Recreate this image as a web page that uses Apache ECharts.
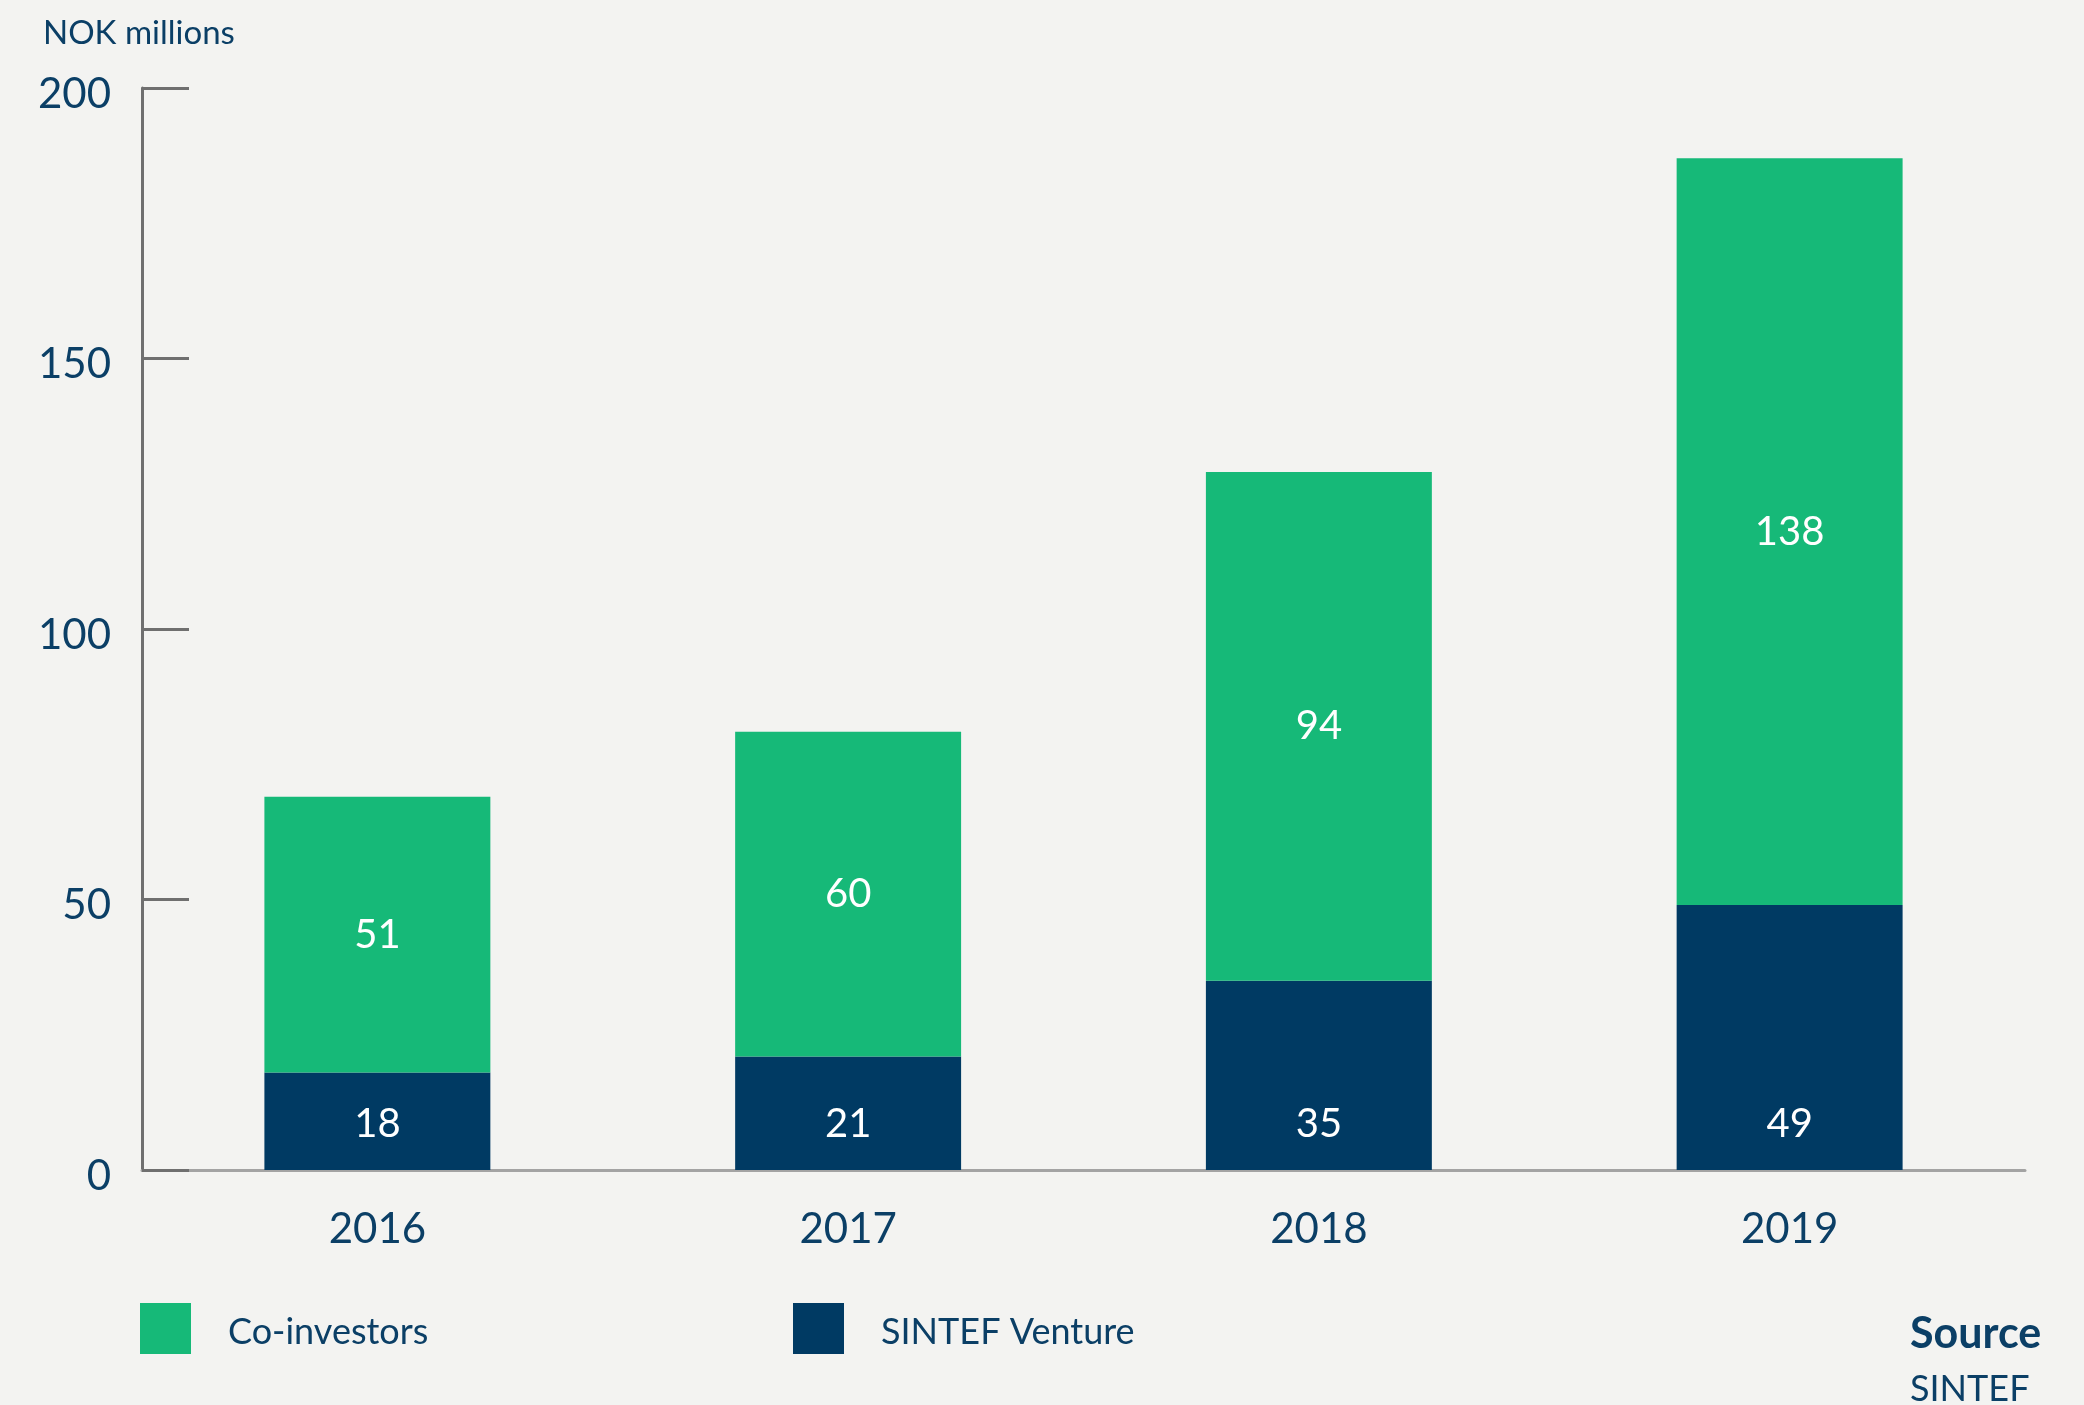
<!DOCTYPE html>
<html lang="en">
<head>
  <meta charset="UTF-8" />
  <title>SINTEF Venture investments</title>
  <script src="https://cdn.jsdelivr.net/npm/echarts@6/dist/echarts.min.js"></script>
  <style>
    html, body { margin: 0; padding: 0; background: #f3f3f1; }
    #chart { width: 2084px; height: 1405px; }
  </style>
</head>
<body>
  <div id="chart"></div>
  <script>
    // data
    var years = ['2016', '2017', '2018', '2019'];
    var sintefVenture = [18, 21, 35, 49];
    var coInvestors = [51, 60, 94, 138];
    var yTicks = { min: 0, max: 200, step: 50 };

    var navy = '#003a63';
    var green = '#16b978';
    var textColor = '#0b3f66';
    var font = 'Lato, "Open Sans", sans-serif';

    var chart = echarts.init(document.getElementById('chart'));

    // legend text sits a touch lower than the square's centre
    var legendText = {
      formatter: '{t|{name}}',
      textStyle: {
        rich: { t: { fontSize: 36, color: textColor, fontFamily: font, padding: [8, 0, 0, 32] } }
      }
    };

    var option = {
      backgroundColor: '#f3f3f1',
      animation: false,
      textStyle: { fontFamily: font },
      title: [
        {
          text: 'NOK millions',
          left: 38, top: 12,
          textStyle: { fontSize: 33, fontWeight: 'normal', color: textColor, fontFamily: font }
        },
        {
          text: 'Source',
          left: 1905, top: 1308,
          textStyle: { fontSize: 43, fontWeight: 'bold', color: textColor, fontFamily: font }
        },
        {
          text: 'SINTEF',
          left: 1905, top: 1366,
          textStyle: { fontSize: 36, fontWeight: 'normal', color: textColor, fontFamily: font }
        }
      ],
      grid: { left: 142, right: 59, top: 88, bottom: 235, containLabel: false },
      legend: [
        Object.assign({
          data: ['Co-investors'],
          left: 135, top: 1298,
          icon: 'rect', itemWidth: 51, itemHeight: 51
        }, legendText),
        Object.assign({
          data: ['SINTEF Venture'],
          left: 788, top: 1298,
          icon: 'rect', itemWidth: 51, itemHeight: 51
        }, legendText)
      ],
      xAxis: {
        type: 'category',
        data: years,
        axisLine: { lineStyle: { color: '#a3a3a3', width: 3 } },
        axisTick: { show: false },
        axisLabel: { fontSize: 42, color: textColor, margin: 38, fontFamily: font }
      },
      yAxis: {
        type: 'value',
        min: yTicks.min, max: yTicks.max, interval: yTicks.step,
        axisLine: { show: true, lineStyle: { color: '#6f6f6f', width: 3 } },
        axisTick: { show: true, inside: true, length: 47, lineStyle: { color: '#6f6f6f', width: 3 } },
        splitLine: { show: false },
        axisLabel: {
          margin: 31,
          formatter: '{v|{value}}',
          rich: { v: { fontSize: 42, color: textColor, fontFamily: font, padding: [12, 0, 0, 0] } }
        }
      },
      series: [
        {
          name: 'SINTEF Venture',
          type: 'bar',
          stack: 'total',
          data: sintefVenture,
          barWidth: '48%',
          itemStyle: { color: navy },
          label: { show: true, position: 'insideBottom', distance: 26, color: '#ffffff', fontSize: 40, fontFamily: font }
        },
        {
          name: 'Co-investors',
          type: 'bar',
          stack: 'total',
          data: coInvestors,
          barWidth: '48%',
          itemStyle: { color: green },
          label: { show: true, position: 'inside', color: '#ffffff', fontSize: 40, fontFamily: font }
        }
      ]
    };

    chart.setOption(option);
  </script>
</body>
</html>
